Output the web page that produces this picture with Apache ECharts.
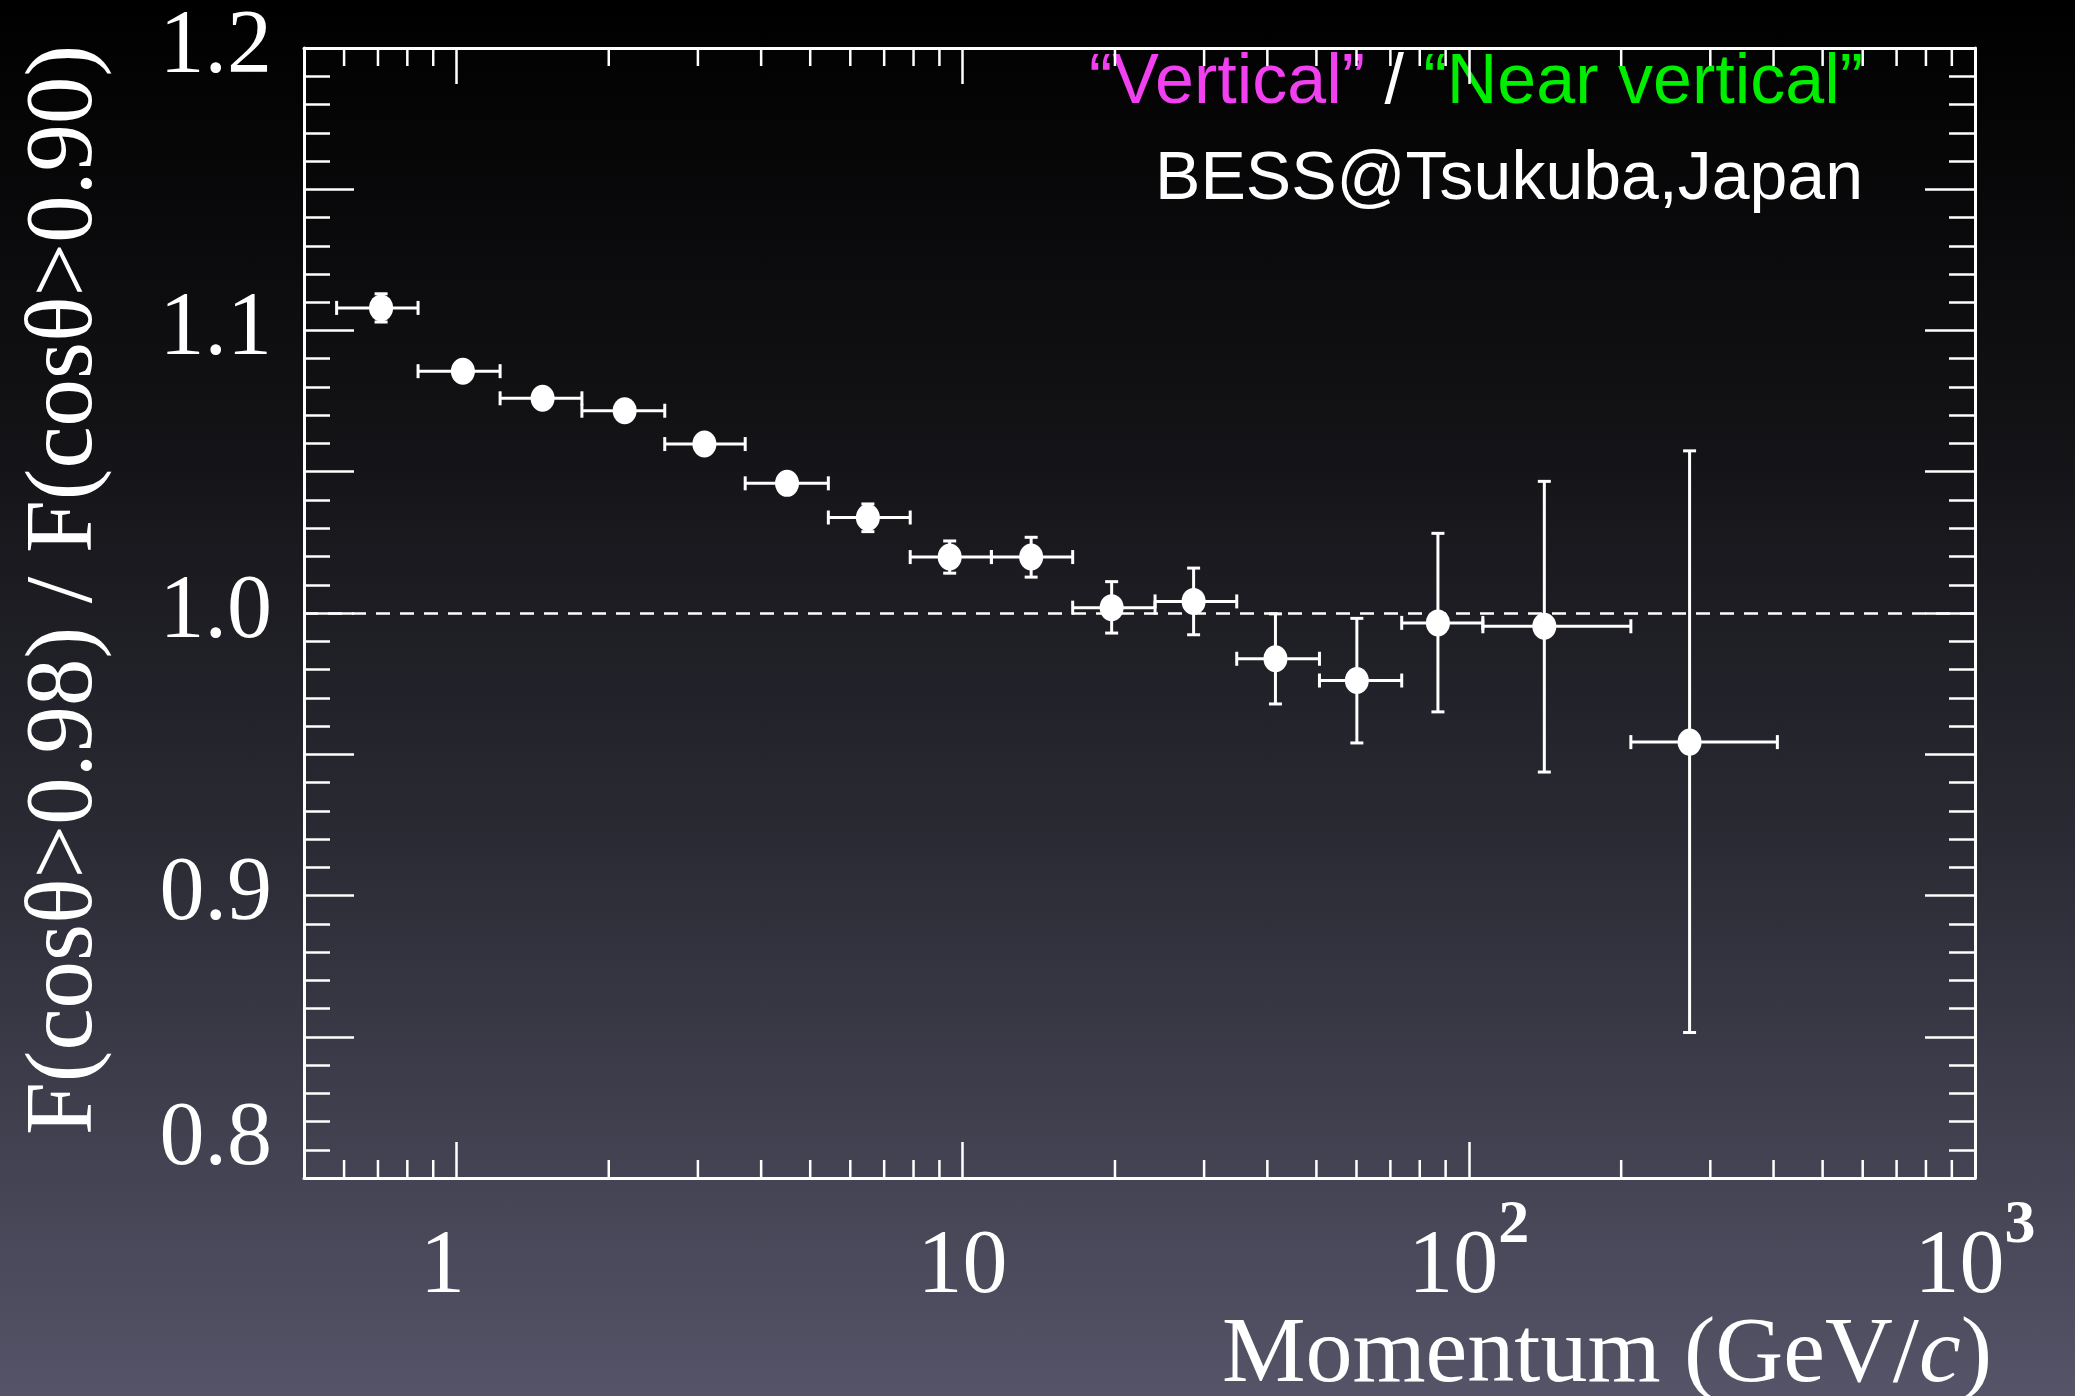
<!DOCTYPE html>
<html><head><meta charset="utf-8">
<script src="https://cdn.jsdelivr.net/npm/echarts@6/dist/echarts.min.js"></script>
<style>html,body{margin:0;padding:0;overflow:hidden;}
#c{width:2075px;height:1396px;background:linear-gradient(to bottom,#000000 0%,#121215 30%,#2a2a34 60%,#555468 100%);}</style>
</head><body><div id="c"></div>
<script>
// Bin centres and edges (GeV/c)
const xCenter = [0.71, 1.03, 1.48, 2.15, 3.09, 4.50, 6.50, 9.43, 13.66, 19.7, 28.6, 41.5, 60.1, 86.9, 141, 273];
const xLow    = [0.58, 0.84, 1.22, 1.77, 2.58, 3.72, 5.43, 7.88, 11.4, 16.5, 24.0, 34.8, 50.7, 73.7, 106.6, 209];
const xHigh   = [0.84, 1.22, 1.77, 2.58, 3.72, 5.43, 7.88, 11.4, 16.5, 24.0, 34.8, 50.7, 73.7, 106.6, 209, 407];
// Ratio and its error range
const ratio   = [1.108, 1.0856, 1.076, 1.0716, 1.0598, 1.0459, 1.0338, 1.0198, 1.0198, 1.0019, 1.0041, 0.9838, 0.9761, 0.9965, 0.9953, 0.9543];
const ratioLo = [1.103, 1.0831, 1.0735, 1.0691, 1.0573, 1.0429, 1.0288, 1.0141, 1.0127, 0.9929, 0.9923, 0.9678, 0.9540, 0.9650, 0.9437, 0.8515];
const ratioHi = [1.113, 1.0881, 1.0785, 1.0741, 1.0623, 1.0489, 1.0386, 1.0255, 1.0268, 1.0111, 1.0159, 0.9997, 0.9981, 1.0282, 1.0466, 1.0574];
// Minor tick values of the log axis
const minorX = [0.6,0.7,0.8,0.9,2,3,4,5,6,7,8,9,20,30,40,50,60,70,80,90,200,300,400,500,600,700,800,900];
const refLine = 1.0;

const SERIF = "'Liberation Serif','Times New Roman',serif";
const SANS = "'Liberation Sans',Arial,sans-serif";

const chart = echarts.init(document.getElementById('c'), null, {renderer:'canvas'});

const errData = xCenter.map((x,i)=>[x, ratio[i], xLow[i], xHigh[i], ratioLo[i], ratioHi[i]]);
const ptData = xCenter.map((x,i)=>[x, ratio[i]]);

function xFmt(v){
  const l = Math.log10(v), e = Math.round(l);
  if (Math.abs(l-e) > 1e-6) return '';
  if (e === 0) return '{one|1}';
  if (e === 1) return '{m|10}';
  return '{m|10}{s|' + e + '}';
}
function yFmt(v){
  const t = v*10;
  if (Math.abs(t - Math.round(t)) > 1e-6) return '';
  const s = (Math.round(t)/10).toFixed(1);
  return Math.abs(v-0.8) < 1e-6 ? '{low|'+s+'}' : '{n|'+s+'}';
}
const lineStyleAxis = {color:'#fff', width:3};

const option = {
  backgroundColor:'transparent',
  animation:false,
  grid:{left:304, right:100, top:48, bottom:218, containLabel:false},
  xAxis:[{
    type:'log', logBase:10, min:0.5, max:1000, position:'bottom',
    axisLine:{show:true, lineStyle:lineStyleAxis},
    axisTick:{show:true, inside:true, length:36, lineStyle:{color:'#fff', width:2.5}},
    splitLine:{show:false},
    axisLabel:{show:true, margin:31, formatter:xFmt, showMinLabel:true, showMaxLabel:true,
      rich:{
        m:{fontFamily:SERIF, fontSize:90, lineHeight:90, color:'#fff', padding:[28,0,0,0]},
        one:{fontFamily:SERIF, fontSize:90, lineHeight:90, color:'#fff', padding:[28,28,0,0]},
        s:{fontFamily:SERIF, fontSize:62, lineHeight:62, color:'#fff', fontWeight:'bold', padding:[0,0,56,0]}
      }}
  },{
    type:'log', logBase:10, min:0.5, max:1000, position:'top',
    axisLine:{show:true, lineStyle:lineStyleAxis},
    axisTick:{show:true, inside:true, length:36, lineStyle:{color:'#fff', width:2.5}},
    splitLine:{show:false}, axisLabel:{show:false}
  }],
  yAxis:[{
    type:'value', min:0.8, max:1.2, interval:0.05, position:'left',
    axisLine:{show:true, lineStyle:lineStyleAxis},
    axisTick:{show:true, inside:true, length:50, lineStyle:{color:'#fff', width:2.5}},
    minorTick:{show:true, splitNumber:5, length:26, lineStyle:{color:'#fff', width:2.5}},
    splitLine:{show:false},
    axisLabel:{show:true, margin:32, formatter:yFmt, showMinLabel:true, showMaxLabel:true,
      rich:{
        n:{fontFamily:SERIF, fontSize:90, color:'#fff'},
        low:{fontFamily:SERIF, fontSize:90, color:'#fff', padding:[0,0,76,0]}
      }}
  },{
    type:'value', min:0.8, max:1.2, interval:0.05, position:'right',
    axisLine:{show:true, lineStyle:lineStyleAxis},
    axisTick:{show:true, inside:true, length:50, lineStyle:{color:'#fff', width:2.5}},
    minorTick:{show:true, splitNumber:5, length:26, lineStyle:{color:'#fff', width:2.5}},
    splitLine:{show:false}, axisLabel:{show:false}
  }],
  series:[
    {
      type:'custom', name:'minorTicks', silent:true, z:5,
      xAxisIndex:0, yAxisIndex:0,
      data: minorX.map(v=>[v, refLine]),
      renderItem:function(params, api){
        const cs = params.coordSys;
        const x = api.coord([api.value(0), api.value(1)])[0];
        const st = {stroke:'#fff', lineWidth:2.5};
        const L = 18;
        return {type:'group', children:[
          {type:'line', shape:{x1:x, y1:cs.y+cs.height, x2:x, y2:cs.y+cs.height-L}, style:st},
          {type:'line', shape:{x1:x, y1:cs.y, x2:x, y2:cs.y+L}, style:st}
        ]};
      }
    },
    {
      type:'custom', name:'errors', silent:true, z:6,
      xAxisIndex:0, yAxisIndex:0,
      data: errData,
      encode:{x:[0,2,3], y:[1,4,5]},
      renderItem:function(params, api){
        const y = api.value(1);
        const c = api.coord([api.value(0), y]);
        const l = api.coord([api.value(2), y]);
        const r = api.coord([api.value(3), y]);
        const lo = api.coord([api.value(0), api.value(4)]);
        const hi = api.coord([api.value(0), api.value(5)]);
        const st = {stroke:'#fff', lineWidth:3};
        const hc = 7, vc = 6.5;
        return {type:'group', children:[
          {type:'line', shape:{x1:l[0], y1:c[1], x2:r[0], y2:c[1]}, style:st},
          {type:'line', shape:{x1:l[0], y1:c[1]-hc, x2:l[0], y2:c[1]+hc}, style:st},
          {type:'line', shape:{x1:r[0], y1:c[1]-hc, x2:r[0], y2:c[1]+hc}, style:st},
          {type:'line', shape:{x1:c[0], y1:lo[1], x2:c[0], y2:hi[1]}, style:st},
          {type:'line', shape:{x1:c[0]-vc, y1:lo[1], x2:c[0]+vc, y2:lo[1]}, style:st},
          {type:'line', shape:{x1:c[0]-vc, y1:hi[1], x2:c[0]+vc, y2:hi[1]}, style:st}
        ]};
      }
    },
    {
      type:'scatter', name:'ratio', z:7,
      xAxisIndex:0, yAxisIndex:0,
      data: ptData,
      symbol:'circle', symbolSize:[24,27],
      itemStyle:{color:'#fff', opacity:1},
      markLine:{
        silent:true, symbol:['none','none'], label:{show:false},
        lineStyle:{color:'#fff', width:2.5, type:[14,10]},
        data:[{yAxis:refLine}]
      }
    }
  ],
  graphic:[
    {type:'text', x:66, y:590, rotation:Math.PI/2, silent:true,
      style:{text:'F(cosθ>0.98) / F(cosθ>0.90)', font:'95px '+SERIF, fill:'#fff', align:'center', verticalAlign:'middle'}},
    {type:'text', x:1992, y:1403, silent:true,
      style:{text:'{a|Momentum (GeV/}{i|c}{a|)}', align:'right', verticalAlign:'bottom',
        rich:{a:{fontFamily:SERIF, fontSize:94, fill:'#fff'}, i:{fontFamily:SERIF, fontSize:94, fontStyle:'italic', fill:'#fff'}}}},
    {type:'text', x:1863, y:84, silent:true,
      style:{text:'{v|“Vertical”}{w| / }{g|“Near vertical”}', align:'right', verticalAlign:'middle',
        rich:{v:{fontFamily:SANS, fontSize:70, fill:'#f040f0'}, w:{fontFamily:SANS, fontSize:70, fill:'#ffffff'}, g:{fontFamily:SANS, fontSize:70, fill:'#00ee00'}}}},
    {type:'text', x:1863, y:180, silent:true,
      style:{text:'BESS@Tsukuba,Japan', font:'68px '+SANS, fill:'#fff', align:'right', verticalAlign:'middle'}}
  ]
};
chart.setOption(option);
</script></body></html>
